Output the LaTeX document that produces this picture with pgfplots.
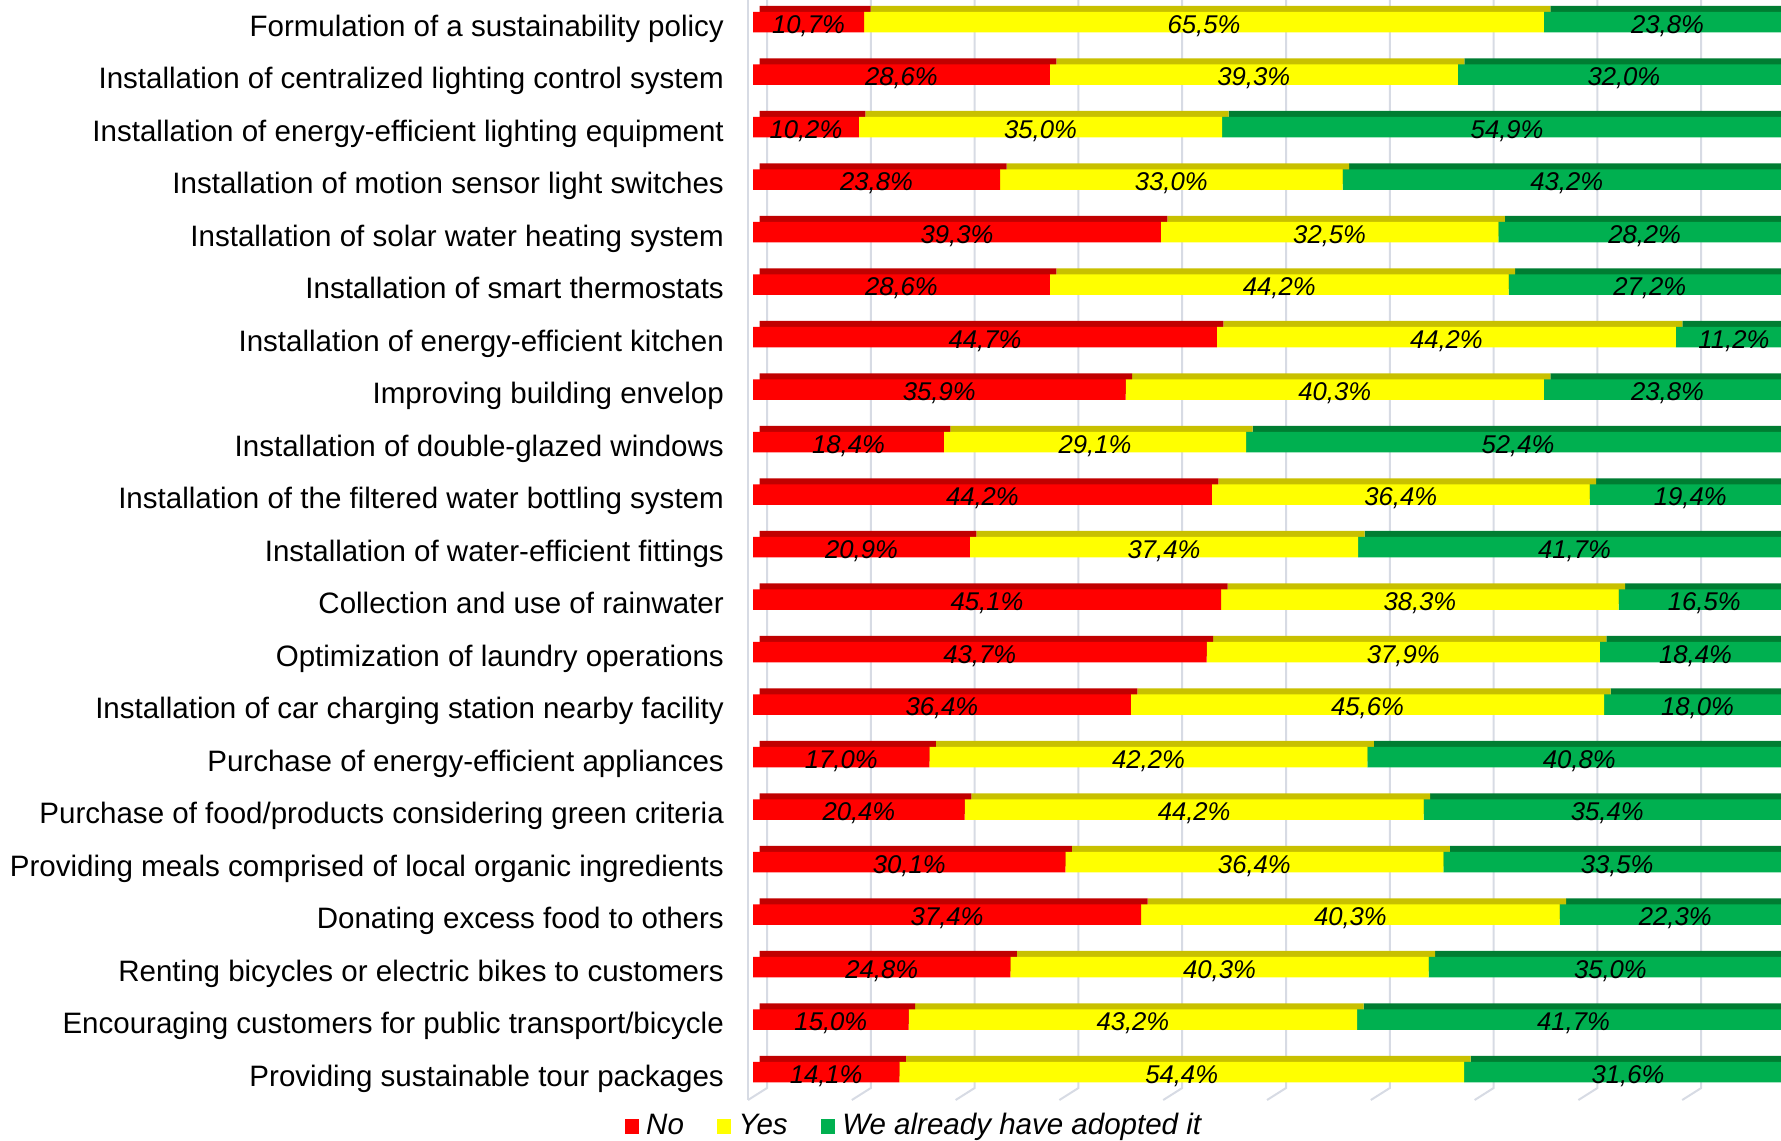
\documentclass[border=0pt]{standalone}
\usepackage{fontspec}
\setmainfont{Liberation Sans}
\usepackage{pgfplots}
\usepackage{pgfplotstable}
\pgfplotsset{compat=1.18}

\definecolor{cNo}{RGB}{255,0,0}
\definecolor{cYes}{RGB}{255,255,0}
\definecolor{cAd}{RGB}{0,176,80}
\definecolor{dNo}{RGB}{192,0,0}
\definecolor{dYes}{RGB}{200,192,0}
\definecolor{dAd}{RGB}{0,125,50}
\definecolor{gridc}{RGB}{215,219,228}

\pgfplotstableread{
row no yes ad
1 10.7 65.5 23.8
2 28.6 39.3 32.0
3 10.2 35.0 54.9
4 23.8 33.0 43.2
5 39.3 32.5 28.2
6 28.6 44.2 27.2
7 44.7 44.2 11.2
8 35.9 40.3 23.8
9 18.4 29.1 52.4
10 44.2 36.4 19.4
11 20.9 37.4 41.7
12 45.1 38.3 16.5
13 43.7 37.9 18.4
14 36.4 45.6 18.0
15 17.0 42.2 40.8
16 20.4 44.2 35.4
17 30.1 36.4 33.5
18 37.4 40.3 22.3
19 24.8 40.3 35.0
20 15.0 43.2 41.7
21 14.1 54.4 31.6
}\data

\pgfplotsset{
  base/.style={
    scale only axis, width=102.8mm, height=108.8mm,
    xmin=0, xmax=99.04, ymin=0.581, ymax=21.305, y dir=reverse,
    anchor=north west, clip=false,
  },
  lbl/.style={draw=none, mark=none, nodes near coords={\pgfmathprintnumber[fixed,fixed zerofill,precision=1,use comma,assume math mode=true]{\pgfplotspointmeta}\%},
    point meta=explicit,
    every node near coord/.append style={font=\fontsize{7.3}{8}\selectfont\itshape, anchor=base, yshift=-1.1mm, inner sep=0pt, text=black}},
}

\begin{document}
\begin{tikzpicture}
\path[use as bounding box] (0,0) rectangle (178.1mm,-114mm);

% grid (back wall)
\begin{axis}[base, hide axis, at={(75.3mm,0)}]
\pgfplotsinvokeforeach{0,...,9}{
  \draw[gridc, line width=0.2mm] (axis cs:{#1*10+1.35},0.581) -- (axis cs:{#1*10+1.35},21.305) -- ++(-1.9mm,-1.2mm);
}
\draw[gridc, line width=0.2mm] (axis cs:-0.48,0.581) -- (axis cs:-0.48,21.53);
\end{axis}

% top faces (shifted darker copies)
\begin{axis}[base, hide axis, at={(75.95mm,0.6mm)}, xbar stacked, bar width=2.05mm]
\addplot[fill=dNo, draw=none] table[x=no, y=row] {\data};
\addplot[fill=dYes, draw=none] table[x=yes, y=row] {\data};
\addplot[fill=dAd, draw=none] table[x=ad, y=row] {\data};
\end{axis}

% front faces
\begin{axis}[base, at={(75.3mm,0)}, xbar stacked, bar width=2.05mm,
  axis line style={draw=none}, major tick length=0, xtick=\empty,
  ytick={1,...,21},
  yticklabels={
    {Formulation of a sustainability policy},
    {Installation of centralized lighting control system},
    {Installation of energy-efficient lighting equipment},
    {Installation of motion sensor light switches},
    {Installation of solar water heating system},
    {Installation of smart thermostats},
    {Installation of energy-efficient kitchen},
    {Improving building envelop},
    {Installation of double-glazed windows},
    {Installation of the filtered water bottling system},
    {Installation of water-efficient fittings},
    {Collection and use of rainwater},
    {Optimization of laundry operations},
    {Installation of car charging station nearby facility},
    {Purchase of energy-efficient appliances},
    {Purchase of food/products considering green criteria},
    {Providing meals comprised of local organic ingredients},
    {Donating excess food to others},
    {Renting bicycles or electric bikes to customers},
    {Encouraging customers for public transport/bicycle},
    {Providing sustainable tour packages}},
  yticklabel style={font=\fontsize{8.4}{10}\selectfont, anchor=base east, inner sep=0pt, xshift=-2.85mm, yshift=-1.4mm},
  legend columns=3,
  legend image code/.code={\fill[#1,draw=none] (0mm,-0.72mm) rectangle (1.45mm,0.72mm);},
  legend style={at={(-0.1255,-0.0355)}, anchor=west, draw=none, fill=none, inner sep=0pt,
    font=\fontsize{8.4}{10}\selectfont\itshape,
    /tikz/every even column/.append style={column sep=2.6mm}},
]
\addplot[fill=cNo, draw=none] table[x=no, y=row] {\data};
\addplot[fill=cYes, draw=none] table[x=yes, y=row] {\data};
\addplot[fill=cAd, draw=none] table[x=ad, y=row] {\data};
\legend{No, Yes, We already have adopted it}
\end{axis}

% value labels, centred on each segment
\begin{axis}[base, hide axis, at={(75.3mm,0)}]
\addplot[lbl] table[x expr=\thisrow{no}/2, y=row, meta=no] {\data};
\addplot[lbl] table[x expr=\thisrow{no}+\thisrow{yes}/2, y=row, meta=yes] {\data};
\addplot[lbl] table[x expr=\thisrow{no}+\thisrow{yes}+\thisrow{ad}/2, y=row, meta=ad] {\data};
\end{axis}
\end{tikzpicture}
\end{document}
